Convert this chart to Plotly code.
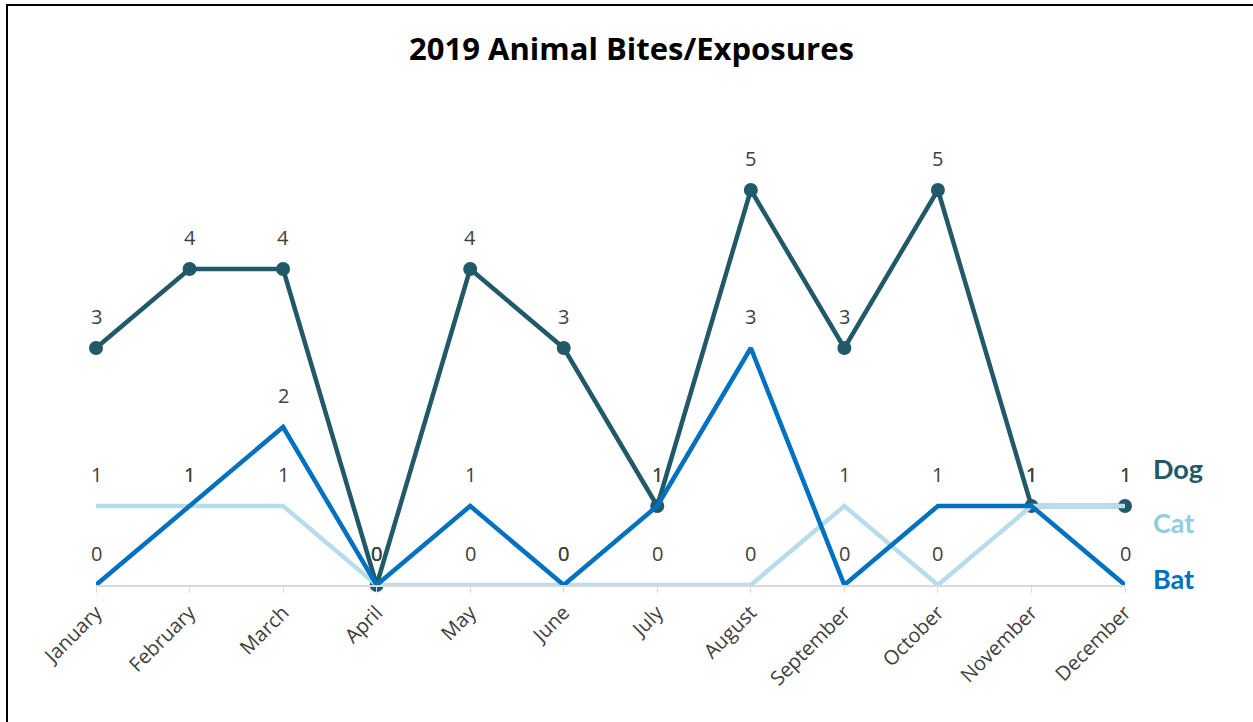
import plotly.graph_objects as go

months = ["January", "February", "March", "April", "May", "June", "July",
          "August", "September", "October", "November", "December"]
dog = [3, 4, 4, 0, 4, 3, 1, 5, 3, 5, 1, 1]
cat = [1, 1, 1, 0, 0, 0, 0, 0, 1, 0, 1, 1]
bat = [0, 1, 2, 0, 1, 0, 1, 3, 0, 1, 1, 0]

series = [
    ("Dog", dog, "#215968", True),
    ("Cat", cat, "#B7DDE8", False),
    ("Bat", bat, "#0070C0", False),
]
legend_y = {"Dog": 1.47, "Cat": 0.79, "Bat": 0.08}
legend_color = {"Dog": "#215968", "Cat": "#92CDDC", "Bat": "#0070C0"}

W, H = 1253, 722
L, R, T, B = 96, 128, 111, 137
plot_w = W - L - R
plot_h = H - T - B

fig = go.Figure()
annotations = []
for name, vals, color, markers in series:
    fig.add_trace(go.Scatter(
        x=months, y=vals, name=name,
        mode="lines+markers" if markers else "lines",
        line=dict(color=color, width=4.5),
        marker=dict(size=14, color=color),
        cliponaxis=False, showlegend=False,
    ))
    for m, v in zip(months, vals):
        annotations.append(dict(
            x=m, y=v, xref="x", yref="y", text=str(v), showarrow=False,
            yshift=32, font=dict(family="Open Sans", size=20, color="#404040"),
        ))
    annotations.append(dict(
        x=1.0, xshift=26, y=legend_y[name], xref="paper", yref="y",
        xanchor="left", yanchor="middle", text=f"<b>{name}</b>", showarrow=False,
        font=dict(family="Lato", size=27, color=legend_color[name]),
    ))

# outer frame: left and top edges of the chart border, as one open path
def px_x(p):
    return (p - L) / plot_w

def px_y(p):
    return (H - B - p) / plot_h

frame_path = (f"M {px_x(7)},{px_y(730)} "
              f"L {px_x(7)},{px_y(5)} "
              f"L {px_x(1260)},{px_y(5)}")
fig.add_shape(type="path", xref="paper", yref="paper", path=frame_path,
              line=dict(color="black", width=2), fillcolor="rgba(0,0,0,0)")

fig.update_layout(
    width=W, height=H,
    margin=dict(l=L, r=R, t=T, b=B),
    paper_bgcolor="white", plot_bgcolor="white",
    title=dict(text="<b>2019 Animal Bites/Exposures</b>", x=0.504, xanchor="center",
               y=1 - 49 / H, yanchor="middle",
               font=dict(family="Open Sans", size=31, color="black")),
    annotations=annotations,
    xaxis=dict(
        type="category", range=[0, 11], showgrid=False, zeroline=False,
        showline=True, linecolor="#D9D9D9", linewidth=2,
        ticks="outside", ticklen=6, tickcolor="#D9D9D9", tickwidth=1,
        tickangle=-45, tickfont=dict(family="Open Sans", size=20, color="#404040"),
    ),
    yaxis=dict(range=[0, 6], visible=False, showgrid=False, zeroline=False),
)

fig.write_html("out.html")
